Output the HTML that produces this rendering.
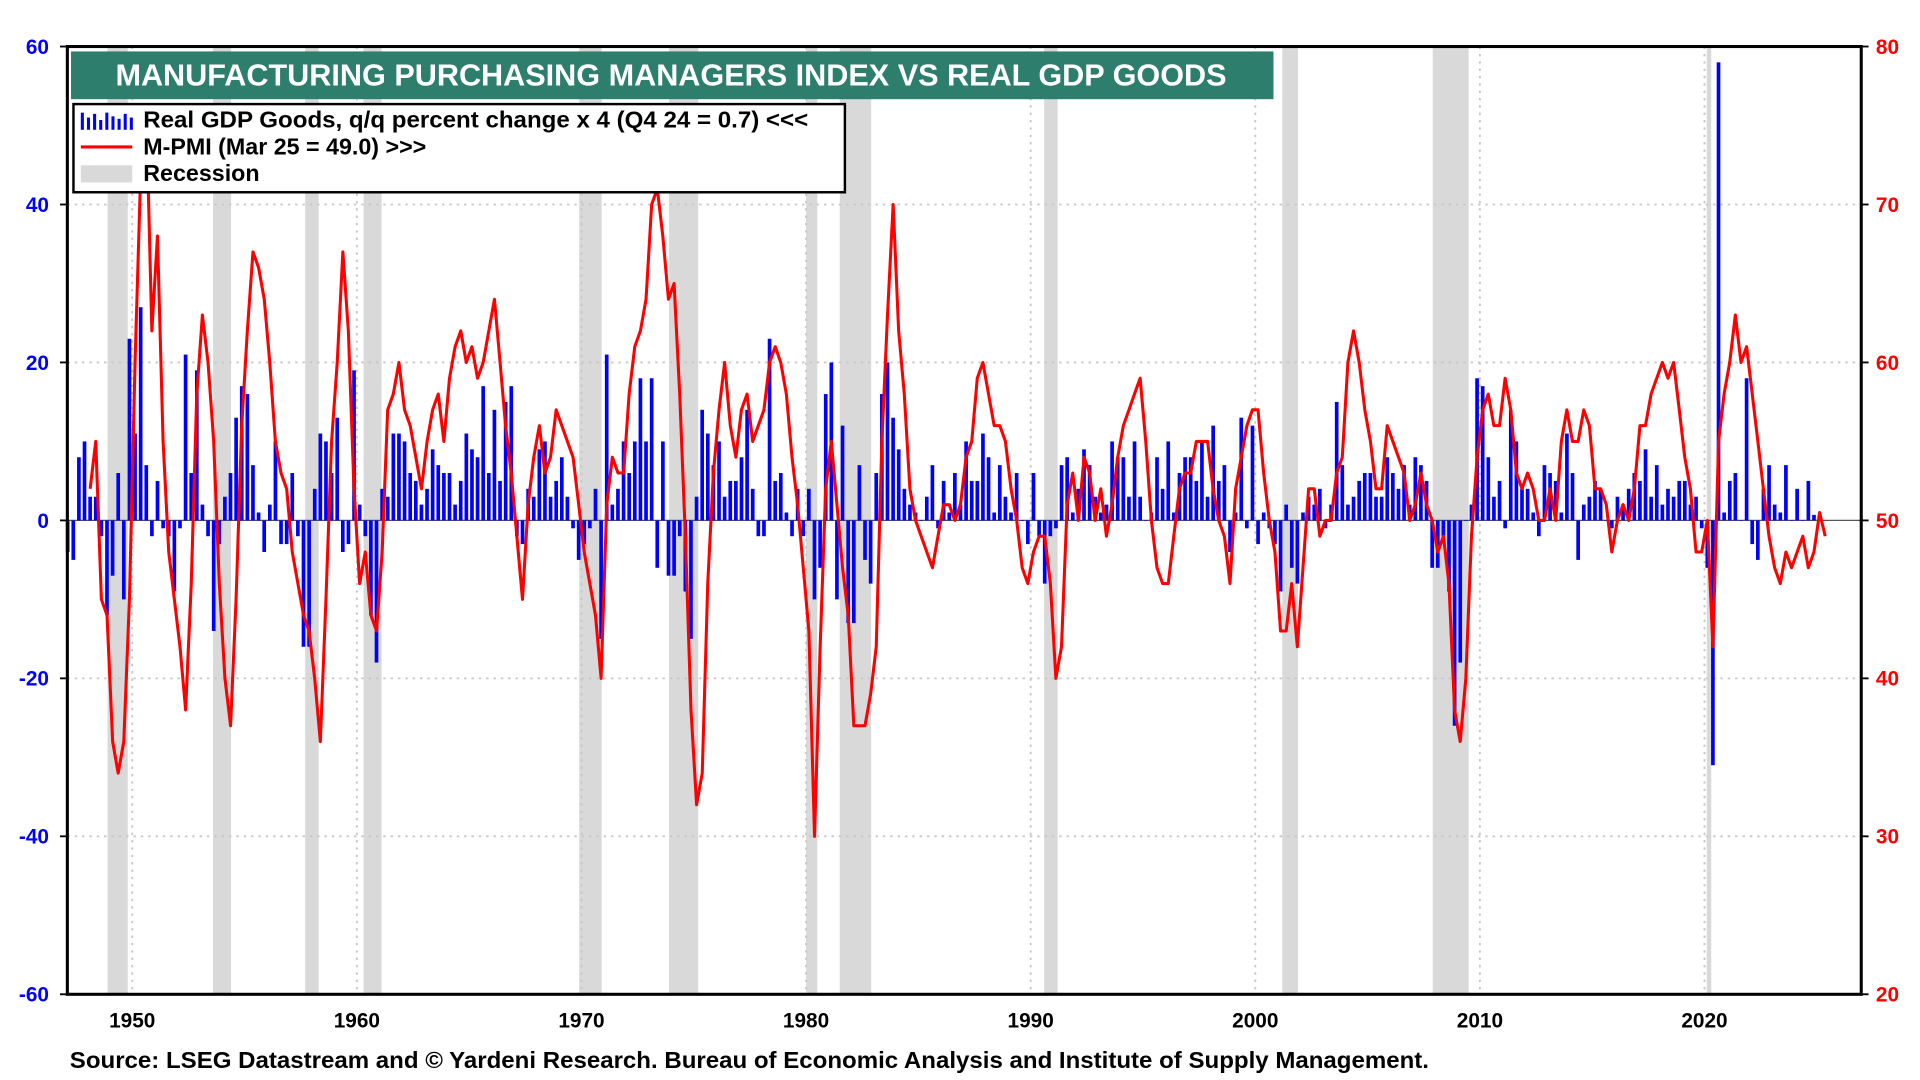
<!DOCTYPE html>
<html><head><meta charset="utf-8"><style>
html,body{margin:0;padding:0;background:#fff;}
svg{display:block;font-family:"Liberation Sans",Arial,sans-serif;font-weight:bold;}
</style></head><body>
<svg id="chart" width="1920" height="1080" viewBox="0 0 1568 882" xmlns="http://www.w3.org/2000/svg">
<g id="rec"></g>
<g id="grid"></g>
<g id="bars"></g>
<g id="line"></g>
<g id="axes"></g>
<rect x="55" y="38" width="1465" height="774" fill="none" stroke="#000" stroke-width="2.5"/>
<rect x="58" y="42" width="982" height="39" fill="#2E7E6E"/>
<text x="548" y="70" text-anchor="middle" fill="#fff" font-size="25">MANUFACTURING PURCHASING MANAGERS INDEX VS REAL GDP GOODS</text>
<g>
<rect x="60" y="85" width="630" height="72" fill="#fff" stroke="#000" stroke-width="2"/>
<g fill="#0000ff">
<rect x="66" y="92" width="2.5" height="14"/><rect x="71" y="96" width="2.5" height="10"/><rect x="76" y="93" width="2.5" height="13"/><rect x="81" y="98" width="2.5" height="8"/><rect x="86" y="92" width="2.5" height="14"/><rect x="91" y="95" width="2.5" height="11"/><rect x="96" y="97" width="2.5" height="9"/><rect x="101" y="93" width="2.5" height="13"/><rect x="106" y="96" width="2.5" height="10"/>
</g>
<text x="117" y="104" font-size="19" textLength="543" lengthAdjust="spacingAndGlyphs">Real GDP Goods, q/q percent change x 4 (Q4 24 = 0.7) &lt;&lt;&lt;</text>
<line x1="66" y1="120" x2="108" y2="120" stroke="#f00" stroke-width="2.5"/>
<text x="117" y="126" font-size="19">M-PMI (Mar 25 = 49.0) &gt;&gt;&gt;</text>
<rect x="66" y="135" width="42" height="14" fill="#d9d9d9"/>
<text x="117" y="148" font-size="19">Recession</text>
</g>
<text x="57" y="872" font-size="19" textLength="1110" lengthAdjust="spacingAndGlyphs">Source: LSEG Datastream and © Yardeni Research. Bureau of Economic Analysis and Institute of Supply Management.</text>
</svg>
<script>
const gdpStartYear = 1947;
const gdpValues = [
-4,-5,8,10, 3,3,-2,-12, -7,6,-10,23, 11,27,7,-2, 5,-1,-2,-9, -1,21,6,19,
2,-2,-14,-3, 3,6,13,17, 16,7,1,-4, 2,10,-3,-3, 6,-2,-16,-16, 4,11,10,6,
13,-4,-3,19, 2,-2,-12,-18, 4,3,11,11, 10,6,5,2, 4,9,7,6, 6,2,5,11,
9,8,17,6, 14,5,15,17, -2,-3,4,3, 9,10,3,5, 8,3,-1,-5, -3,-1,4,-15,
21,2,4,10, 6,10,18,10, 18,-6,10,-7, -7,-2,-9,-15, 3,14,11,7, 10,3,5,5,
8,14,4,-2, -2,23,5,6, 1,-2,4,-2, 4,-10,-6,16, 20,-10,12,-13, -13,7,-5,-8,
6,16,20,13, 9,4,2,1, 0,3,7,-1, 5,1,6,2, 10,5,5,11, 8,1,7,3,
1,6,0,-3, 6,-2,-8,-2, -1,7,8,1, 4,9,7,3, 1,2,10,8, 8,3,10,3,
0,1,8,4, 10,1,6,8, 8,5,10,3, 12,5,7,-4, 1,13,-1,12, -3,1,-1,-3,
-9,2,-6,-8, 1,3,2,4, -1,2,15,7, 2,3,5,6, 6,3,3,8, 6,4,7,2,
8,7,5,-6, -6,-2,-9,-26, -18,0,2,18, 17,8,3,5, -1,14,10,4, 4,1,-2,7,
6,5,1,11, 6,-5,2,3, 5,4,0,-1, 3,2,4,6, 5,9,3,7, 2,4,3,5,
5,2,3,-1, -6,-31,58,1, 5,6,0,18, -3,-5,4,7, 2,1,7,0, 4,0,5,0.7];
const pmiStartYear = 1948;
const pmiValues = [
52,55,45,44, 36,34,36,45, 60,72,76,62, 68,55,48,45, 42,38,46,58, 63,60,55,46,
40,37,45,56, 62,67,66,64, 60,55,53,52, 48,46,44,43, 40,36,45,55, 60,67,62,52,
46,48,44,43, 48,57,58,60, 57,56,54,52, 55,57,58,55, 59,61,62,60, 61,59,60,62,
64,60,56,53, 49,45,51,54, 56,53,54,57, 56,55,54,51, 48,46,44,40, 51,54,53,53,
58,61,62,64, 70,71,68,64, 65,58,49,38, 32,34,46,53, 57,60,56,54, 57,58,55,56,
57,60,61,60, 58,54,51,47, 43,30,42,52, 55,51,47,44, 37,37,37,39, 42,55,63,70,
62,58,52,50, 49,48,47,49, 51,51,50,51, 54,55,59,60, 58,56,56,55, 52,50,47,46,
48,49,49,46, 40,42,51,53, 50,54,53,50, 52,49,51,54, 56,57,58,59, 55,50,47,46,
46,49,52,53, 53,55,55,55, 52,50,49,46, 52,54,56,57, 57,53,50,48, 43,43,46,42,
47,52,52,49, 50,50,53,54, 60,62,60,57, 55,52,52,56, 55,54,53,50, 51,53,51,50,
48,49,46,38, 36,40,49,54, 57,58,56,56, 59,57,53,52, 53,52,50,50, 52,50,55,57,
55,55,57,56, 52,52,51,48, 50,51,50,52, 56,56,58,59, 60,59,60,57, 54,52,48,48,
50,42,55,58, 60,63,60,61, 58,55,52,49, 47,46,48,47, 48,49,47,48, 50.5,49];
const recStarts = [1948.9,1953.6,1957.7,1960.3,1969.9,1973.9,1980.0,1981.5,1990.6,2001.2,2007.9,2020.1];
const recEnds   = [1949.8,1954.4,1958.3,1961.1,1970.9,1975.2,1980.5,1982.9,1991.2,2001.9,2009.5,2020.3];
const leftTicks = [60,40,20,0,-20,-40,-60];
const rightTicks = [80,70,60,50,40,30,20];
const yearTicks = [1950,1960,1970,1980,1990,2000,2010,2020];

const NS='http://www.w3.org/2000/svg';
const X0=55,X1=1520,Y0=38,Y1=812;
const xS = yr => 108 + (yr-1950)*(1284/70);
const yL = v => 425 - v*(774/120);
const yR = v => 425 - (v-50)*(774/60);
function mk(tag, attrs, parent){const e=document.createElementNS(NS,tag);for(const k in attrs)e.setAttribute(k,attrs[k]);parent.appendChild(e);return e;}
const rec=document.getElementById('rec'),grid=document.getElementById('grid'),bars=document.getElementById('bars'),line=document.getElementById('line'),axes=document.getElementById('axes');

recStarts.forEach((s,i)=>{
  const r=mk('rect',{x:xS(s),y:Y0,width:xS(recEnds[i])-xS(s),height:Y1-Y0,fill:'#d9d9d9'},rec);
  
  
});
leftTicks.forEach(v=>{
  const y=yL(v);
  if(v!==0 && v!==60 && v!==-60){
    const g=mk('line',{x1:X0,x2:X1,y1:y,y2:y,stroke:'#c8c8c8','stroke-width':1.5,'stroke-dasharray':'2,4'},grid);
    
    
  }
  const t=mk('text',{x:40,y:y+6,'text-anchor':'end',fill:'#0000ff','font-size':17},axes);
  t.textContent=v;
  
  
  const tk=mk('line',{x1:X0-6,x2:X0,y1:y,y2:y,stroke:'#000','stroke-width':1.5},axes);
  
  
});
rightTicks.forEach(v=>{
  const y=yR(v);
  const t=mk('text',{x:1532,y:y+6,'text-anchor':'start',fill:'#ff0000','font-size':17},axes);
  t.textContent=v;
  
  
  const tk=mk('line',{x1:X1,x2:X1+6,y1:y,y2:y,stroke:'#000','stroke-width':1.5},axes);
  
  
});
yearTicks.forEach(yr=>{
  const x=xS(yr);
  const g=mk('line',{x1:x,x2:x,y1:Y0,y2:Y1,stroke:'#c8c8c8','stroke-width':1.5,'stroke-dasharray':'2,4'},grid);
  
  
  const t=mk('text',{x:x,y:839,'text-anchor':'middle',fill:'#000','font-size':17},axes);
  t.textContent=yr;
  
  
});
const zl=mk('line',{x1:X0,x2:X1,y1:yL(0),y2:yL(0),stroke:'#555','stroke-width':1},grid);



gdpValues.forEach((v,i)=>{
  const x=xS(gdpStartYear+i/4+0.125);
  const y=yL(v),y0=yL(0);
  const b=mk('rect',{x:x-1.5,y:Math.min(y,y0),width:3,height:Math.max(Math.abs(y-y0),0.5),fill:'#0000ff'},bars);
  
  
});
let d='';
pmiValues.forEach((v,i)=>{
  const x=xS(pmiStartYear+i/4+0.125);
  d+=(i?'L':'M')+x.toFixed(1)+','+yR(v).toFixed(1);
});
const p=mk('path',{d:d,fill:'none',stroke:'#ff0000','stroke-width':2.5,'stroke-linejoin':'round'},line);


</script>
</body></html>
